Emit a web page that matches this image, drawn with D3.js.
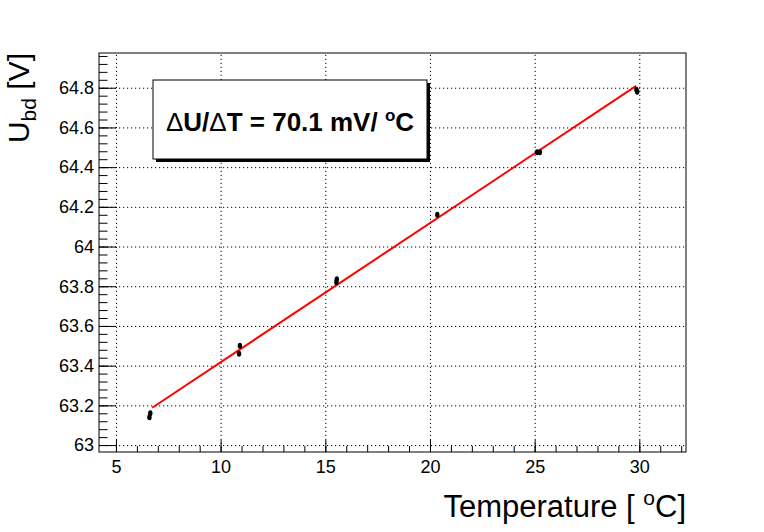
<!DOCTYPE html>
<html>
<head>
<meta charset="utf-8">
<script src="https://cdn.jsdelivr.net/npm/d3@7"></script>
<style>
  body { margin: 0; background: #fff; }
  text { font-family: "Liberation Sans", Arial, Helvetica, sans-serif; }
</style>
</head>
<body>
<div class="chart"></div>
<script>
var svgWidth = 764;
var svgHeight = 532;

// frame of the plot area
var margin = { top: 53, right: 78, bottom: 80, left: 99 };
var width = svgWidth - margin.left - margin.right;
var height = svgHeight - margin.top - margin.bottom;

// measured points (several readings per temperature)
var temperature = [6.60, 6.64, 10.88, 10.92, 15.53, 15.55, 20.35, 25.12, 25.25, 29.86, 29.90];
var breakdownV  = [63.14, 63.16, 63.46, 63.50, 63.82, 63.835, 64.16, 64.475, 64.475, 64.79, 64.78];

// linear fit end points
var fitT = [6.73, 29.85];
var fitU = [63.188, 64.809];

// axis ticks
var xMajor = [5, 10, 15, 20, 25, 30];
var xMinor = d3.range(5, 33, 1);
var yMajor = [63, 63.2, 63.4, 63.6, 63.8, 64, 64.2, 64.4, 64.6, 64.8];
var yMinor = d3.range(63, 64.97, 0.04);

var svg = d3.select(".chart")
  .append("svg")
  .attr("width", svgWidth)
  .attr("height", svgHeight);

svg.append("rect")
  .attr("width", svgWidth)
  .attr("height", svgHeight)
  .attr("fill", "#fff");

var chartGroup = svg.append("g")
  .attr("transform", `translate(${margin.left}, ${margin.top})`);

var xScale = d3.scaleLinear().domain([4.19, 32.23]).range([0, width]);
var yScale = d3.scaleLinear().domain([62.965, 64.975]).range([height, 0]);

// grid (dotted)
chartGroup.append("g")
  .attr("class", "grid")
  .attr("transform", `translate(0, ${height})`)
  .call(d3.axisBottom(xScale).tickValues(xMajor).tickSize(-height).tickFormat(""));
chartGroup.append("g")
  .attr("class", "grid")
  .call(d3.axisLeft(yScale).tickValues(yMajor).tickSize(-width).tickFormat(""));
chartGroup.selectAll(".grid .domain").remove();
chartGroup.selectAll(".grid line")
  .attr("stroke", "#000")
  .attr("stroke-width", 1)
  .attr("stroke-dasharray", "1.2,2.8");

// minor ticks
chartGroup.append("g")
  .attr("class", "minor")
  .attr("transform", `translate(0, ${height})`)
  .call(d3.axisBottom(xScale).tickValues(xMinor).tickSize(-6).tickFormat(""));
chartGroup.append("g")
  .attr("class", "minor")
  .call(d3.axisLeft(yScale).tickValues(yMinor).tickSize(-8.5).tickFormat(""));

// major ticks + labels
var xAxis = chartGroup.append("g")
  .attr("transform", `translate(0, ${height})`)
  .call(d3.axisBottom(xScale).tickValues(xMajor).tickSize(-12).tickPadding(8).tickFormat(d3.format("d")));
var yAxis = chartGroup.append("g")
  .call(d3.axisLeft(yScale).tickValues(yMajor).tickSize(-17).tickPadding(5).tickFormat(d => String(+d.toFixed(1))));

chartGroup.selectAll(".minor .domain").remove();
chartGroup.selectAll(".tick line").filter(function () { return !this.parentNode.parentNode.classList.contains("grid"); })
  .attr("stroke", "#000");
[xAxis, yAxis].forEach(function (ax) {
  ax.selectAll("text").attr("font-size", "18px").attr("fill", "#000")
    .style("font-family", "'Liberation Sans', Arial, sans-serif");
  ax.select(".domain").remove();
});

// frame
chartGroup.append("rect")
  .attr("width", width)
  .attr("height", height)
  .attr("fill", "none")
  .attr("stroke", "#000")
  .attr("stroke-width", 1);

// fit line
chartGroup.append("line")
  .attr("x1", xScale(fitT[0]))
  .attr("y1", yScale(fitU[0]))
  .attr("x2", xScale(fitT[1]))
  .attr("y2", yScale(fitU[1]))
  .attr("stroke", "#ff0000")
  .attr("stroke-width", 2);

// data points
chartGroup.selectAll(".pt")
  .data(temperature)
  .enter()
  .append("ellipse")
  .attr("class", "pt")
  .attr("cx", d => xScale(d))
  .attr("cy", (d, i) => yScale(breakdownV[i]))
  .attr("rx", 2.2)
  .attr("ry", 3)
  .attr("fill", "#000");

// legend box with shadow
var box = { x: 153, y: 80, w: 274, h: 79 };
svg.append("rect")
  .attr("x", box.x + 3).attr("y", box.y + 3)
  .attr("width", box.w).attr("height", box.h)
  .attr("fill", "#000");
svg.append("rect")
  .attr("x", box.x).attr("y", box.y)
  .attr("width", box.w).attr("height", box.h)
  .attr("fill", "#fff")
  .attr("stroke", "#000")
  .attr("stroke-width", 1);

var legendText = svg.append("text")
  .attr("x", box.x + box.w / 2)
  .attr("y", 131)
  .attr("text-anchor", "middle")
  .attr("font-size", "26px")
  .attr("font-weight", "bold");
legendText.append("tspan").attr("font-weight", "normal").text("\u0394");
legendText.append("tspan").text("U/");
legendText.append("tspan").attr("font-weight", "normal").text("\u0394");
legendText.append("tspan").text("T = 70.1 mV/ ");
legendText.append("tspan").attr("font-size", "17px").attr("dy", "-10").text("o");
legendText.append("tspan").attr("dy", "10").text("C");

// x axis title
var xTitle = svg.append("text")
  .attr("x", 686)
  .attr("y", 517)
  .attr("text-anchor", "end")
  .attr("font-size", "31px");
xTitle.append("tspan").text("Temperature [ ");
xTitle.append("tspan").attr("font-size", "21px").attr("dy", "-12").text("o");
xTitle.append("tspan").attr("dy", "12").text("C]");

// y axis title
var yTitle = svg.append("text")
  .attr("transform", "translate(29, 53) rotate(-90)")
  .attr("text-anchor", "end")
  .attr("font-size", "30px");
yTitle.append("tspan").text("U");
yTitle.append("tspan").attr("font-size", "21px").attr("dy", "7").text("bd");
yTitle.append("tspan").attr("dy", "-7").text(" [V]");
</script>
</body>
</html>
